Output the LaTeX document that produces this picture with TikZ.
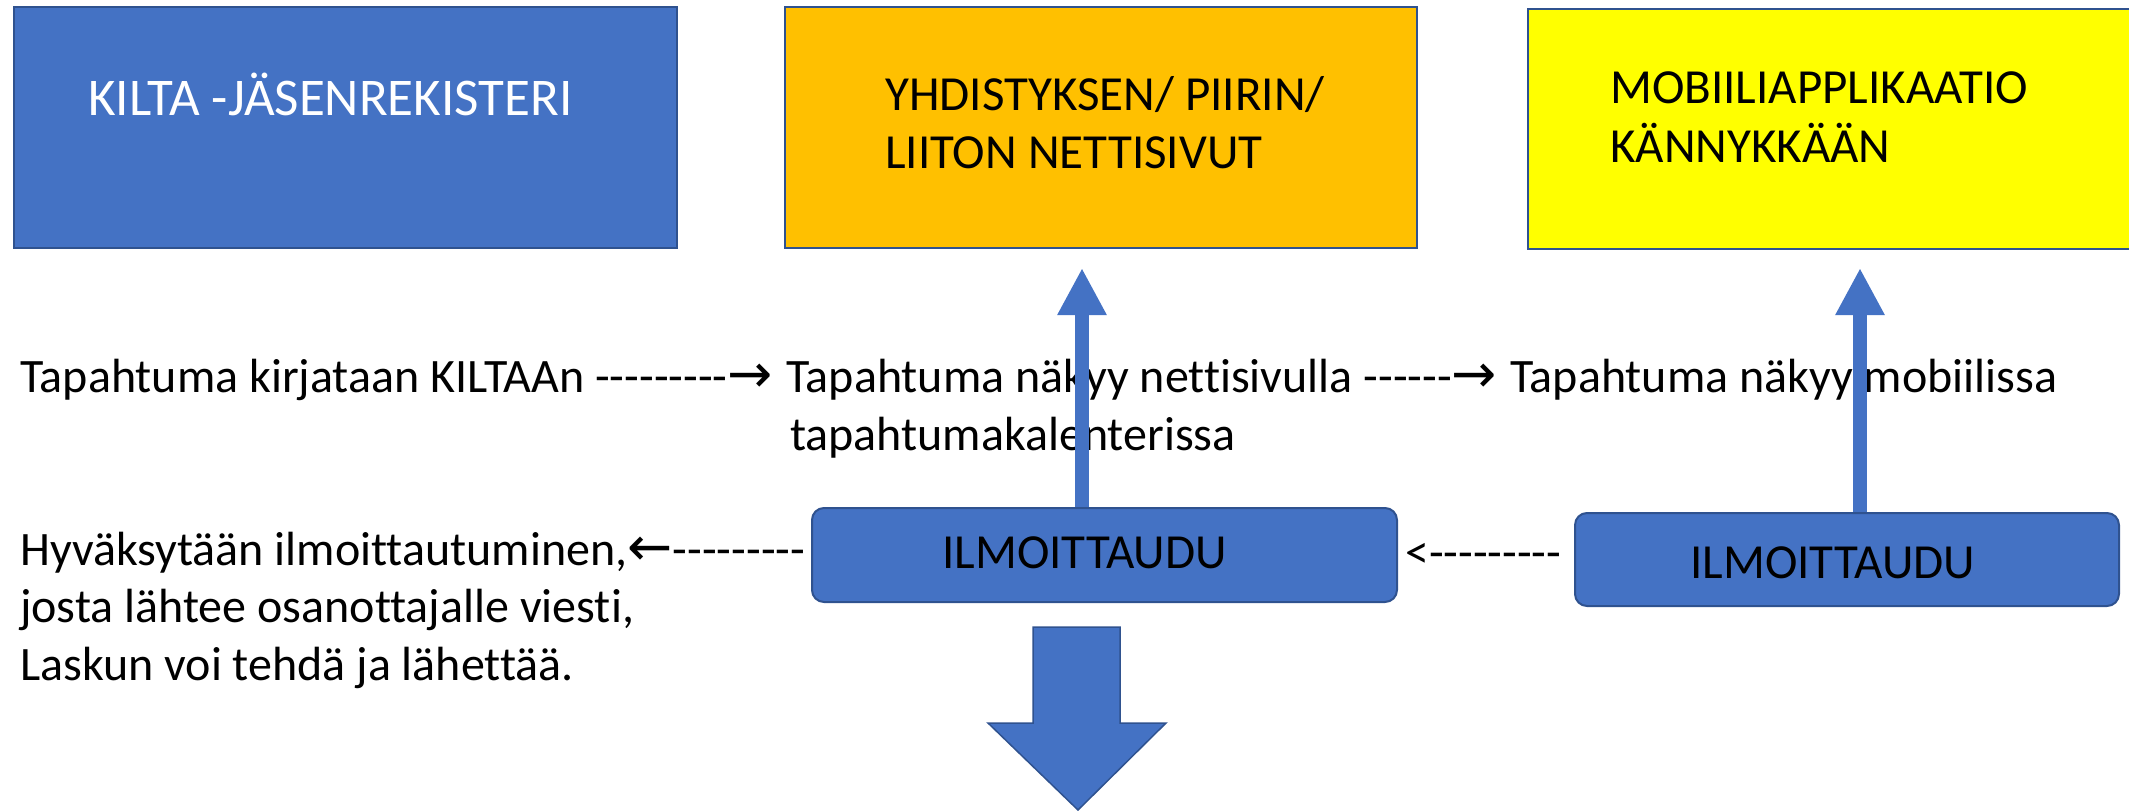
\documentclass[tikz,border=0pt]{standalone}
\usepackage{fontspec}
\usetikzlibrary{arrows.meta}
\newfontfamily\calfont{Carlito}[Ligatures=NoCommon]
\newfontfamily\arrowfont{DejaVu Sans}
\newcommand\txtarrow[1]{{\arrowfont\fontsize{54}{58}\selectfont #1}}
\definecolor{kiltablue}{HTML}{4472C4}
\definecolor{kiltaedge}{HTML}{2F528F}
\definecolor{weborange}{HTML}{FFC000}
\definecolor{mobyellow}{HTML}{FFFF00}
\begin{document}
\begin{tikzpicture}[x=1pt,y=-1pt,
  every node/.style={font=\calfont\fontsize{48}{58}\selectfont},
  box/.style={draw=kiltaedge,line width=2pt,inner sep=0},
  txt/.style={anchor=base west,inner sep=0},
  label/.style={txt,font=\calfont\fontsize{49}{58}\selectfont},
  ilmo/.style={box,fill=kiltablue,rounded corners=12pt},
  uparrow/.style={kiltablue,line width=14pt,-{Triangle[length=47pt,width=46pt]}}]
  \useasboundingbox (0,0) rectangle (2129,811);
  \clip (0,0) rectangle (2129,811);

  % top boxes
  \node[box,fill=kiltablue,minimum width=663,minimum height=241] (kilta) at (345.5,127.5) {};
  \node[box,fill=weborange,minimum width=632,minimum height=241] (web)   at (1101,127.5) {};
  \node[box,fill=mobyellow,minimum width=672,minimum height=240] (mob)   at (1864,129) {};

  \node[txt,text=white,font=\calfont\fontsize{53}{64}\selectfont] (kiltatxt) at (88,115) {KILTA -JÄSENREKISTERI};
  \node[label] (webtxt1) at (885,110)  {YHDISTYKSEN/ PIIRIN/};
  \node[label] (webtxt2) at (885,168)  {LIITON NETTISIVUT};
  \node[label] (mobtxt1) at (1610,103) {MOBIILIAPPLIKAATIO};
  \node[label] (mobtxt2) at (1610,162) {KÄNNYKKÄÄN};

  % event row
  \node[txt] (kirjaus)   at (20,392)   {Tapahtuma kirjataan KILTAAn ---------\txtarrow{→}};
  \node[txt] (nakyyweb)  at (786,392)  {Tapahtuma näkyy nettisivulla ------\txtarrow{→}};
  \node[txt] (kalenteri) at (790,450)  {tapahtumakalenterissa};
  \node[txt] (nakyymob)  at (1510,392) {Tapahtuma näkyy mobiilissa};

  % registration
  \node[ilmo,minimum width=585,minimum height=94] (ilmo1) at (1104.5,555) {};
  \node[ilmo,minimum width=544,minimum height=93] (ilmo2) at (1847,559.5) {};
  \node[label] (ilmo1txt) at (942,568)  {ILMOITTAUDU};
  \node[label] (ilmo2txt) at (1690,578) {ILMOITTAUDU};
  \node[txt] (paluu)    at (1405,568) {<---------};

  \node[txt] (hyvaksy1) at (20,565) {Hyväksytään ilmoittautuminen,\txtarrow{←}---------};
  \node[txt] (hyvaksy2) at (20,622) {josta lähtee osanottajalle viesti,};
  \node[txt] (hyvaksy3) at (20,680) {Laskun voi tehdä ja lähettää.};

  % arrows
  \coordinate (webin) at (1082,268);
  \coordinate (mobin) at (1860,268);
  \draw[uparrow] (webin |- ilmo1.north) -- (webin);
  \draw[uparrow] (mobin |- ilmo2.north) -- (mobin);

  \filldraw[fill=kiltablue,draw=kiltaedge,line width=1.5pt]
    (1033,627) -- (1120,627) -- (1120,723) -- (1166,723) -- (1078,810)
    -- (988,723) -- (1033,723) -- cycle;

\end{tikzpicture}
\end{document}
